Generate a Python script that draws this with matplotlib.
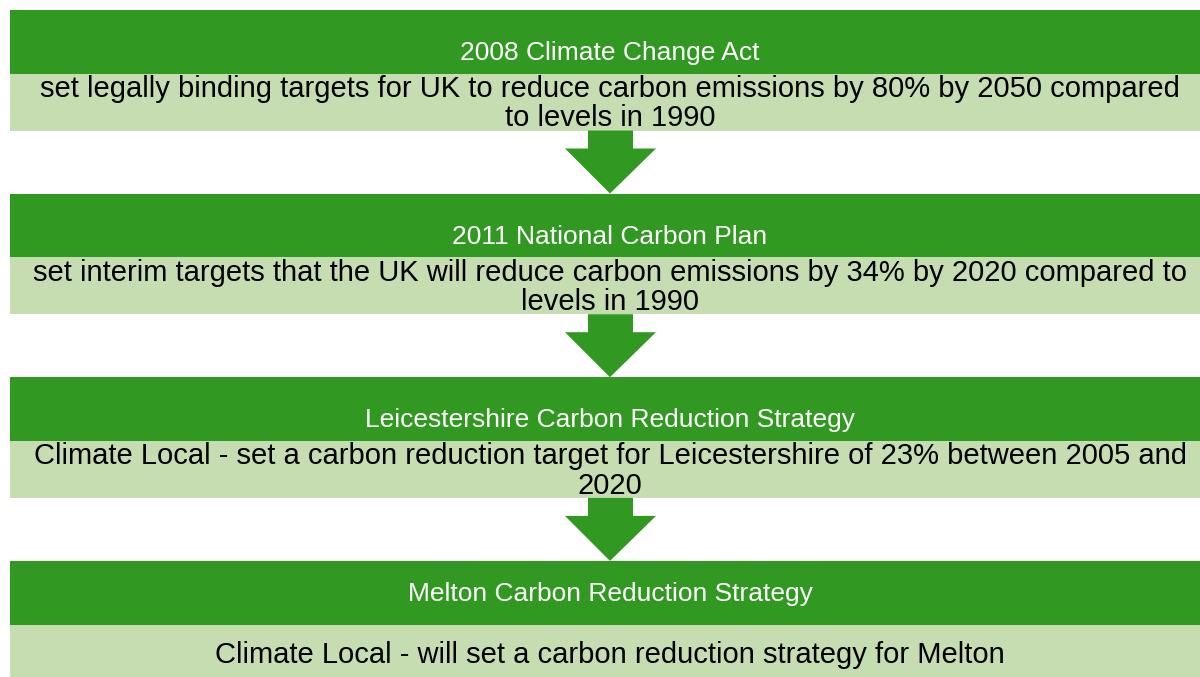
import matplotlib.pyplot as plt
from matplotlib.patches import Rectangle, Polygon

plt.rcParams['font.family'] = ['Liberation Sans', 'DejaVu Sans']

titles = ['2008 Climate Change Act',
          '2011 National Carbon Plan',
          'Leicestershire Carbon Reduction Strategy',
          'Melton Carbon Reduction Strategy']
details = ['set legally binding targets for UK to reduce carbon emissions by 80% by 2050 compared\nto levels in 1990',
           'set interim targets that the UK will reduce carbon emissions by 34% by 2020 compared to\nlevels in 1990',
           'Climate Local - set a carbon reduction target for Leicestershire of 23% between 2005 and\n2020',
           'Climate Local - will set a carbon reduction strategy for Melton']

dark = '#319921'
light = '#c5ddb0'

fig = plt.figure(figsize=(12, 6.77), dpi=100)
ax = fig.add_axes([0, 0, 1, 1])
ax.set_xlim(0, 1200)
ax.set_ylim(677, 0)
ax.axis('off')

left, right = 10, 1200
step = 183.7
head_h, body_h = 63.5, 57
cx = 610

for i, (t, d) in enumerate(zip(titles, details)):
    top = 10 + i * step
    ax.add_patch(Rectangle((left, top), right - left, head_h, color=dark, lw=0))
    ax.add_patch(Rectangle((left, top + head_h), right - left, body_h + 10 * (i == 3),
                           color=light, lw=0))
    two_lines = '\n' in d
    ty = top + (43 if two_lines else head_h / 2 + 1)
    ax.text(cx, ty, t, color='white', fontsize=19, ha='center', va='center')
    ax.text(cx, top + head_h + 30, d, color='black', fontsize=21,
            ha='center', va='center', linespacing=1.06)
    if i < len(titles) - 1:
        a0 = top + head_h + body_h
        ax.add_patch(Polygon([(588, a0), (633, a0), (633, a0 + 18), (656, a0 + 18),
                              (cx, a0 + 63), (565, a0 + 18), (588, a0 + 18)],
                             closed=True, color=dark, lw=0))

fig.savefig('out.png', dpi=100)
